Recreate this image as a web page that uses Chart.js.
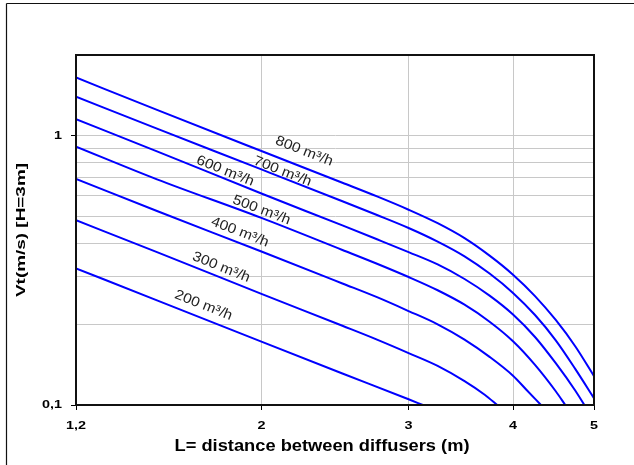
<!DOCTYPE html>
<html><head><meta charset="utf-8">
<script src="https://cdn.jsdelivr.net/npm/chart.js@4"></script>
<style>html,body{margin:0;padding:0;background:#fff;}</style>
</head><body>
<canvas id="c" width="634" height="465"></canvas>
<script>
// ---- data ----
const flowLabels = ['200 m³/h','300 m³/h','400 m³/h','500 m³/h','600 m³/h','700 m³/h','800 m³/h'];
const x200 = [1.2, 1.5, 2, 2.5, 3, 3.12];
const v200 = [0.322, 0.245, 0.172, 0.131, 0.105, 0.1];
const x300 = [1.2, 1.5, 2, 2.5, 2.75, 3, 3.25, 3.5, 3.7, 3.83];
const v300 = [0.486, 0.37, 0.259, 0.197, 0.175, 0.156, 0.1398, 0.1227, 0.1092, 0.1];
const x400 = [1.2, 1.5, 2, 2.5, 2.75, 3, 3.25, 3.5, 3.75, 4, 4.15, 4.32];
const v400 = [0.693, 0.526, 0.372, 0.283, 0.2516, 0.2235, 0.1995, 0.175, 0.151, 0.1285, 0.114, 0.1];
const x500 = [1.2, 1.5, 2, 2.5, 2.75, 3, 3.25, 3.5, 3.75, 4, 4.25, 4.5, 4.62];
const v500 = [0.913, 0.69, 0.496, 0.377, 0.335, 0.299, 0.267, 0.236, 0.204, 0.1726, 0.141, 0.1125, 0.1];
const x600 = [1.2, 1.5, 2, 2.5, 2.75, 3, 3.25, 3.5, 3.75, 4, 4.25, 4.5, 4.75, 4.87];
const v600 = [1.154, 0.877, 0.611, 0.465, 0.413, 0.370, 0.333, 0.294, 0.255, 0.217, 0.179, 0.143, 0.113, 0.1];
const x700 = [1.2, 1.5, 2, 2.5, 2.75, 3, 3.25, 3.5, 3.75, 4, 4.25, 4.5, 4.75, 5];
const v700 = [1.40, 1.065, 0.751, 0.572, 0.5085, 0.455, 0.405, 0.357, 0.308, 0.261, 0.216, 0.174, 0.136, 0.106];
const x800 = [1.2, 1.5, 2, 2.5, 2.75, 3, 3.25, 3.5, 3.75, 4, 4.25, 4.5, 4.75, 5];
const v800 = [1.65, 1.25, 0.879, 0.67, 0.596, 0.532, 0.474, 0.417, 0.359, 0.305, 0.254, 0.207, 0.165, 0.128];

const xTicks = [1.2, 2, 3, 4, 5];
const xTickLabels = ['1,2', '2', '3', '4', '5'];
const yTicks = [0.1, 0.2, 0.3, 0.4, 0.5, 0.6, 0.7, 0.8, 0.9, 1, 2];
const yTickLabels = ['0,1', '', '', '', '', '', '', '', '', '1', ''];

const xTitle = 'L= distance between diffusers (m)';
const yTitle = 'Vt(m/s) [H=3m]';

// label anchors (data units: x, value) for the curve annotations
const labelAnchorX = [1.705, 1.79, 1.885, 2.0, 1.81, 2.12, 2.25];
const labelAnchorY = [0.2345, 0.325, 0.439, 0.530, 0.741, 0.738, 0.877];

// ---- build ----
const seriesX = [x200, x300, x400, x500, x600, x700, x800];
const seriesV = [v200, v300, v400, v500, v600, v700, v800];
const datasets = seriesX.map((xs, i) => ({
  label: flowLabels[i],
  data: xs.map((x, j) => ({x: x, y: seriesV[i][j]})),
  borderColor: '#0000ff',
  borderWidth: 2,
  pointRadius: 0,
  fill: false,
  cubicInterpolationMode: 'monotone'
}));

const FONT = 'Arial, "Liberation Sans", sans-serif';

function stretchedText(ctx, txt, x, y, sx) {
  ctx.save();
  ctx.translate(x, y);
  ctx.scale(sx, 1);
  ctx.fillText(txt, 0, 0);
  ctx.restore();
}

const decor = {
  id: 'decor',
  afterDatasetsDraw(chart) {
    const ctx = chart.ctx, xs = chart.scales.x, ys = chart.scales.y;
    ctx.save();
    ctx.fillStyle = '#222';
    ctx.font = '14px ' + FONT;
    ctx.textAlign = 'center';
    ctx.textBaseline = 'middle';
    const interp = (xsArr, vsArr, x) => {
      for (let k = 0; k < xsArr.length - 1; k++) {
        if (x >= xsArr[k] && x <= xsArr[k+1]) {
          const t = Math.log(x / xsArr[k]) / Math.log(xsArr[k+1] / xsArr[k]);
          return Math.exp(Math.log(vsArr[k]) + t * (Math.log(vsArr[k+1]) - Math.log(vsArr[k])));
        }
      }
      return vsArr[vsArr.length - 1];
    };
    flowLabels.forEach((txt, i) => {
      const ax = labelAnchorX[i];
      const x1 = ax / 1.06, x2 = ax * 1.06;
      const p1x = xs.getPixelForValue(x1), p1y = ys.getPixelForValue(interp(seriesX[i], seriesV[i], x1));
      const p2x = xs.getPixelForValue(x2), p2y = ys.getPixelForValue(interp(seriesX[i], seriesV[i], x2));
      const ang = Math.atan2(p2y - p1y, p2x - p1x);
      const cx = xs.getPixelForValue(ax), cy = ys.getPixelForValue(labelAnchorY[i]);
      ctx.save();
      ctx.translate(cx, cy);
      ctx.rotate(ang);
      ctx.scale(1.1, 1);
      ctx.fillText(txt, 0, 0);
      ctx.restore();
    });
    ctx.restore();
  },
  afterDraw(chart) {
    const ctx = chart.ctx, a = chart.chartArea, xs = chart.scales.x, ys = chart.scales.y;
    ctx.save();
    // plot frame
    ctx.strokeStyle = '#111';
    ctx.lineWidth = 2;
    ctx.strokeRect(a.left, a.top, a.right - a.left, a.bottom - a.top);
    // outer frame (top and left visible)
    ctx.lineWidth = 1.2;
    ctx.beginPath();
    ctx.moveTo(6.5, 3.5); ctx.lineTo(634, 3.5);
    ctx.moveTo(6.5, 3.5); ctx.lineTo(6.5, 465);
    ctx.stroke();
    // tick labels
    ctx.fillStyle = '#000';
    ctx.textBaseline = 'middle';
    ctx.font = 'bold 11.5px ' + FONT;
    ctx.textAlign = 'center';
    xTicks.forEach((v, i) => {
      if (xTickLabels[i]) stretchedText(ctx, xTickLabels[i], xs.getPixelForValue(v), 426, 1.25);
    });
    ctx.textAlign = 'right';
    yTicks.forEach((v, i) => {
      if (yTickLabels[i]) stretchedText(ctx, yTickLabels[i], 62, ys.getPixelForValue(v), 1.25);
    });
    // axis titles
    ctx.textAlign = 'center';
    ctx.font = 'bold 16.5px ' + FONT;
    let w = ctx.measureText(xTitle).width;
    stretchedText(ctx, xTitle, 322, 446, 295 / w);
    ctx.font = 'bold 13px ' + FONT;
    w = ctx.measureText(yTitle).width;
    ctx.translate(21, 230);
    ctx.rotate(-Math.PI / 2);
    stretchedText(ctx, yTitle, 0, 0, 134 / w);
    ctx.restore();
  }
};

new Chart(document.getElementById('c'), {
  type: 'line',
  data: { datasets },
  plugins: [decor],
  options: {
    responsive: false,
    animation: false,
    layout: { padding: { left: 0, top: 55, right: 40, bottom: 0 } },
    plugins: { legend: { display: false }, tooltip: { enabled: false } },
    scales: {
      x: {
        type: 'logarithmic',
        min: 1.2, max: 5,
        afterBuildTicks: s => { s.ticks = xTicks.map(v => ({ value: v })); },
        afterFit: s => { s.height = 60; },
        ticks: { display: false, autoSkip: false },
        grid: {
          color: c => (c.tick && (c.tick.value === 1.2 || c.tick.value === 5)) ? 'rgba(0,0,0,0)' : '#c8c8c8',
          lineWidth: 1, tickLength: 5, tickColor: '#000'
        },
        border: { color: '#000', width: 2 }
      },
      y: {
        type: 'logarithmic',
        min: 0.1, max: 2,
        afterBuildTicks: s => { s.ticks = yTicks.map(v => ({ value: v })); },
        afterFit: s => { s.width = 76; },
        ticks: { display: false, autoSkip: false },
        grid: {
          color: c => (c.tick && (c.tick.value === 0.1 || c.tick.value === 2)) ? 'rgba(0,0,0,0)' : '#c8c8c8',
          lineWidth: 1, tickLength: 5,
          tickColor: c => (c.tick && (c.tick.value === 0.1 || c.tick.value === 1)) ? '#000' : 'rgba(0,0,0,0)'
        },
        border: { color: '#000', width: 2 }
      }
    }
  }
});
</script>
</body></html>
